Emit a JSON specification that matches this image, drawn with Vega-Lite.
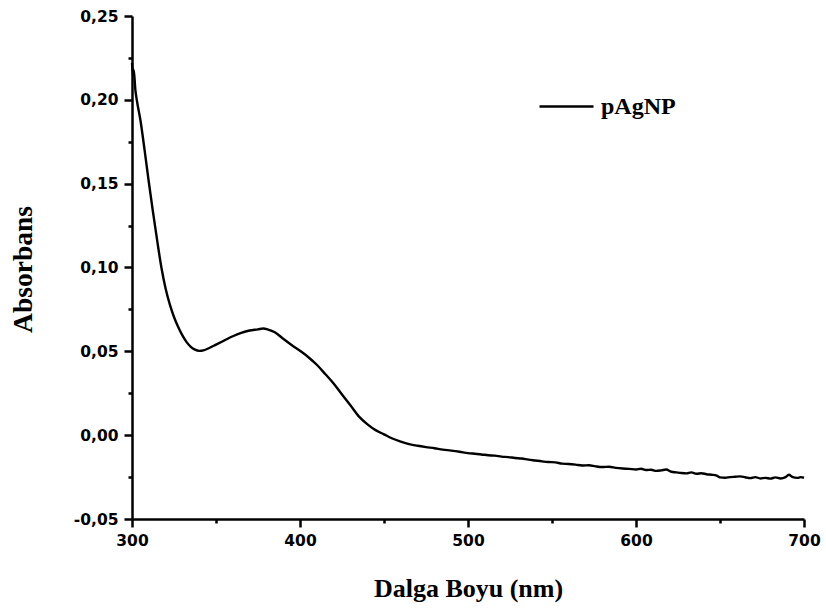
{
  "$schema": "https://vega.github.io/schema/vega-lite/v6.json",
  "width": 672,
  "height": 503,
  "autosize": {"type": "none"},
  "padding": {"left": 132, "top": 16, "right": 22, "bottom": 91},
  "background": "white",
  "config": {"view": {"stroke": null}},
  "data": {"values": [
    {"nm": 300, "A": 0.222, "s": "pAgNP"},
    {"nm": 300.5, "A": 0.215, "s": "pAgNP"},
    {"nm": 301, "A": 0.218, "s": "pAgNP"},
    {"nm": 302, "A": 0.206, "s": "pAgNP"},
    {"nm": 303, "A": 0.199, "s": "pAgNP"},
    {"nm": 305, "A": 0.188, "s": "pAgNP"},
    {"nm": 307.5, "A": 0.17, "s": "pAgNP"},
    {"nm": 310, "A": 0.151, "s": "pAgNP"},
    {"nm": 312.5, "A": 0.133, "s": "pAgNP"},
    {"nm": 315, "A": 0.116, "s": "pAgNP"},
    {"nm": 317.5, "A": 0.1, "s": "pAgNP"},
    {"nm": 320, "A": 0.0875, "s": "pAgNP"},
    {"nm": 322.5, "A": 0.078, "s": "pAgNP"},
    {"nm": 325, "A": 0.0705, "s": "pAgNP"},
    {"nm": 327.5, "A": 0.0645, "s": "pAgNP"},
    {"nm": 330, "A": 0.0595, "s": "pAgNP"},
    {"nm": 332.5, "A": 0.0555, "s": "pAgNP"},
    {"nm": 335, "A": 0.0527, "s": "pAgNP"},
    {"nm": 337.5, "A": 0.051, "s": "pAgNP"},
    {"nm": 340, "A": 0.0503, "s": "pAgNP"},
    {"nm": 342.5, "A": 0.0506, "s": "pAgNP"},
    {"nm": 346, "A": 0.052, "s": "pAgNP"},
    {"nm": 350, "A": 0.054, "s": "pAgNP"},
    {"nm": 355, "A": 0.0565, "s": "pAgNP"},
    {"nm": 360, "A": 0.059, "s": "pAgNP"},
    {"nm": 365, "A": 0.061, "s": "pAgNP"},
    {"nm": 370, "A": 0.0624, "s": "pAgNP"},
    {"nm": 375, "A": 0.0631, "s": "pAgNP"},
    {"nm": 378, "A": 0.0636, "s": "pAgNP"},
    {"nm": 381, "A": 0.063, "s": "pAgNP"},
    {"nm": 385, "A": 0.0614, "s": "pAgNP"},
    {"nm": 390, "A": 0.0575, "s": "pAgNP"},
    {"nm": 395, "A": 0.0538, "s": "pAgNP"},
    {"nm": 400, "A": 0.0503, "s": "pAgNP"},
    {"nm": 405, "A": 0.0465, "s": "pAgNP"},
    {"nm": 410, "A": 0.042, "s": "pAgNP"},
    {"nm": 415, "A": 0.0365, "s": "pAgNP"},
    {"nm": 420, "A": 0.0308, "s": "pAgNP"},
    {"nm": 425, "A": 0.0243, "s": "pAgNP"},
    {"nm": 430, "A": 0.0178, "s": "pAgNP"},
    {"nm": 435, "A": 0.0112, "s": "pAgNP"},
    {"nm": 440, "A": 0.0066, "s": "pAgNP"},
    {"nm": 445, "A": 0.003, "s": "pAgNP"},
    {"nm": 450, "A": 0.0005, "s": "pAgNP"},
    {"nm": 455, "A": -0.002, "s": "pAgNP"},
    {"nm": 460, "A": -0.0038, "s": "pAgNP"},
    {"nm": 465, "A": -0.0053, "s": "pAgNP"},
    {"nm": 470, "A": -0.0063, "s": "pAgNP"},
    {"nm": 475, "A": -0.0071, "s": "pAgNP"},
    {"nm": 480, "A": -0.0078, "s": "pAgNP"},
    {"nm": 485, "A": -0.0086, "s": "pAgNP"},
    {"nm": 490, "A": -0.0092, "s": "pAgNP"},
    {"nm": 495, "A": -0.0099, "s": "pAgNP"},
    {"nm": 500, "A": -0.0107, "s": "pAgNP"},
    {"nm": 504, "A": -0.0111, "s": "pAgNP"},
    {"nm": 508, "A": -0.0115, "s": "pAgNP"},
    {"nm": 512, "A": -0.012, "s": "pAgNP"},
    {"nm": 516, "A": -0.0122, "s": "pAgNP"},
    {"nm": 520, "A": -0.0128, "s": "pAgNP"},
    {"nm": 524, "A": -0.0131, "s": "pAgNP"},
    {"nm": 528, "A": -0.0136, "s": "pAgNP"},
    {"nm": 532, "A": -0.0139, "s": "pAgNP"},
    {"nm": 536, "A": -0.0146, "s": "pAgNP"},
    {"nm": 540, "A": -0.0151, "s": "pAgNP"},
    {"nm": 544, "A": -0.0156, "s": "pAgNP"},
    {"nm": 548, "A": -0.016, "s": "pAgNP"},
    {"nm": 552, "A": -0.0162, "s": "pAgNP"},
    {"nm": 556, "A": -0.017, "s": "pAgNP"},
    {"nm": 560, "A": -0.0172, "s": "pAgNP"},
    {"nm": 564, "A": -0.0176, "s": "pAgNP"},
    {"nm": 568, "A": -0.0181, "s": "pAgNP"},
    {"nm": 572, "A": -0.0179, "s": "pAgNP"},
    {"nm": 576, "A": -0.0186, "s": "pAgNP"},
    {"nm": 580, "A": -0.019, "s": "pAgNP"},
    {"nm": 584, "A": -0.0188, "s": "pAgNP"},
    {"nm": 588, "A": -0.0195, "s": "pAgNP"},
    {"nm": 592, "A": -0.0199, "s": "pAgNP"},
    {"nm": 596, "A": -0.0201, "s": "pAgNP"},
    {"nm": 600, "A": -0.0205, "s": "pAgNP"},
    {"nm": 603, "A": -0.02, "s": "pAgNP"},
    {"nm": 606, "A": -0.0208, "s": "pAgNP"},
    {"nm": 609, "A": -0.0206, "s": "pAgNP"},
    {"nm": 612, "A": -0.0213, "s": "pAgNP"},
    {"nm": 615, "A": -0.021, "s": "pAgNP"},
    {"nm": 618, "A": -0.0205, "s": "pAgNP"},
    {"nm": 621, "A": -0.0218, "s": "pAgNP"},
    {"nm": 624, "A": -0.0222, "s": "pAgNP"},
    {"nm": 627, "A": -0.0226, "s": "pAgNP"},
    {"nm": 630, "A": -0.0228, "s": "pAgNP"},
    {"nm": 633, "A": -0.0222, "s": "pAgNP"},
    {"nm": 636, "A": -0.023, "s": "pAgNP"},
    {"nm": 639, "A": -0.0227, "s": "pAgNP"},
    {"nm": 642, "A": -0.0233, "s": "pAgNP"},
    {"nm": 645, "A": -0.0236, "s": "pAgNP"},
    {"nm": 648, "A": -0.0241, "s": "pAgNP"},
    {"nm": 650, "A": -0.0252, "s": "pAgNP"},
    {"nm": 653, "A": -0.0254, "s": "pAgNP"},
    {"nm": 656, "A": -0.025, "s": "pAgNP"},
    {"nm": 659, "A": -0.0248, "s": "pAgNP"},
    {"nm": 662, "A": -0.0246, "s": "pAgNP"},
    {"nm": 665, "A": -0.0251, "s": "pAgNP"},
    {"nm": 668, "A": -0.0256, "s": "pAgNP"},
    {"nm": 671, "A": -0.025, "s": "pAgNP"},
    {"nm": 674, "A": -0.0258, "s": "pAgNP"},
    {"nm": 677, "A": -0.0255, "s": "pAgNP"},
    {"nm": 680, "A": -0.0259, "s": "pAgNP"},
    {"nm": 683, "A": -0.0252, "s": "pAgNP"},
    {"nm": 686, "A": -0.0258, "s": "pAgNP"},
    {"nm": 689, "A": -0.025, "s": "pAgNP"},
    {"nm": 691, "A": -0.0236, "s": "pAgNP"},
    {"nm": 693, "A": -0.0249, "s": "pAgNP"},
    {"nm": 696, "A": -0.0255, "s": "pAgNP"},
    {"nm": 698, "A": -0.025, "s": "pAgNP"},
    {"nm": 700, "A": -0.0254, "s": "pAgNP"}
  ]},
  "mark": {"type": "line", "strokeWidth": 2.4, "interpolate": "monotone"},
  "encoding": {
    "x": {
      "field": "nm", "type": "quantitative",
      "scale": {"domain": [300, 700], "nice": false, "zero": false},
      "axis": {
        "title": "Dalga Boyu (nm)",
        "values": [300, 350, 400, 450, 500, 550, 600, 650, 700],
        "labelExpr": "datum.value % 100 === 0 ? format(datum.value, 'd') : ''",
        "grid": false,
        "domainColor": "black", "domainWidth": 2.5,
        "tickColor": "black", "tickWidth": 2.5,
        "tickSize": {"condition": {"test": "datum.value % 100 === 0", "value": 8}, "value": 4},
        "labelFont": "DejaVu Sans", "labelFontWeight": "bold", "labelFontSize": 15.5, "labelColor": "black",
        "labelPadding": 6, "labelFlush": false,
        "titleFont": "Liberation Serif", "titleFontWeight": "bold", "titleFontSize": 26, "titleColor": "black",
        "titleBaseline": "alphabetic", "titleY": 77
      }
    },
    "y": {
      "field": "A", "type": "quantitative",
      "scale": {"domain": [-0.05, 0.25], "nice": false, "zero": false},
      "axis": {
        "title": "Absorbans",
        "values": [-0.05, -0.025, 0, 0.025, 0.05, 0.075, 0.1, 0.125, 0.15, 0.175, 0.2, 0.225, 0.25],
        "labelExpr": "round(datum.value * 1000) % 50 === 0 ? (datum.value < 0 ? '-' : '') + replace(format(abs(datum.value), '.2f'), '.', ',') : ''",
        "grid": false,
        "domainColor": "black", "domainWidth": 2.5,
        "tickColor": "black", "tickWidth": 2.5,
        "tickSize": {"condition": {"test": "round(datum.value * 1000) % 50 === 0", "value": 8}, "value": 4},
        "labelFont": "DejaVu Sans", "labelFontWeight": "bold", "labelFontSize": 15.5, "labelColor": "black",
        "labelPadding": 6, "labelFlush": false,
        "titleFont": "Liberation Serif", "titleFontWeight": "bold", "titleFontSize": 27.5, "titleColor": "black",
        "titleAngle": -90, "titleBaseline": "alphabetic", "titleAlign": "center",
        "titleX": -101, "titleY": 253
      }
    },
    "color": {
      "field": "s", "type": "nominal",
      "scale": {"range": ["black"]},
      "legend": {
        "title": null, "orient": "none", "legendX": 406, "legendY": 62,
        "symbolType": "stroke", "symbolSize": 2916, "symbolStrokeWidth": 2.4, "symbolStrokeColor": "black",
        "labelFont": "Liberation Serif", "labelFontWeight": "bold", "labelFontSize": 24, "labelColor": "black",
        "labelOffset": 6, "padding": 0
      }
    }
  }
}
